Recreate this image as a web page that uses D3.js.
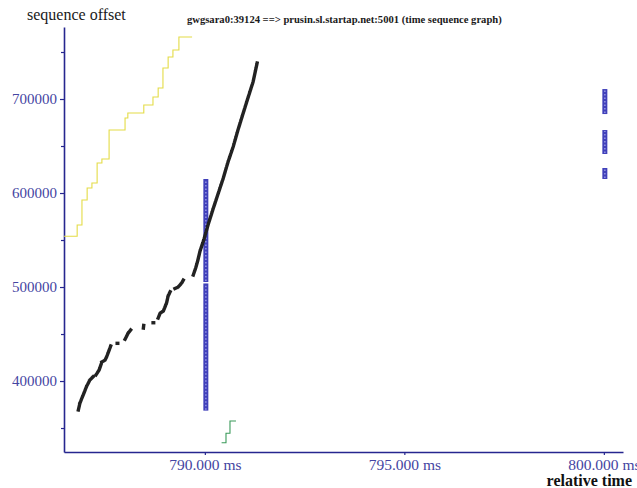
<!DOCTYPE html>
<html>
<head>
<meta charset="utf-8">
<script src="https://cdn.jsdelivr.net/npm/d3@7"></script>
<style>
  html, body { margin: 0; padding: 0; background: #fff; }
  svg { display: block; }
</style>
</head>
<body>
<svg id="chart" width="637" height="488"></svg>
<script>
// Time sequence graph of a single TCP connection.
const title = "gwgsara0:39124 ==> prusin.sl.startap.net:5001 (time sequence graph)";
const yTitle = "sequence offset";
const xTitle = "relative time";

// Axis ticks
const yMajorTicks = [400000, 500000, 600000, 700000];
const yMinorTicks = [350000, 450000, 550000, 650000, 750000];
const xTicks = [790, 795, 800];

// Receive window advertised (time in ms, sequence offset), step line
const windowSteps = [
  [786.47, 554000], [786.80, 566000], [786.92, 592500], [787.05, 605300],
  [787.17, 610600], [787.30, 632000], [787.42, 636200], [787.60, 667000],
  [788.00, 679800], [788.07, 685100], [788.47, 693600], [788.70, 702100],
  [788.83, 711700], [788.95, 733000], [789.08, 744700], [789.20, 752100],
  [789.35, 766000], [789.68, 766000]
];

// Acknowledged sequence offsets, step line
const ackSteps = [
  [790.42, 334400], [790.53, 344400], [790.63, 357400], [790.78, 357400]
];

// Data segments sent; each inner array is a run of closely spaced segments
const dataRuns = [
  [[786.83, 369200], [786.87, 376600], [786.95, 385100], [787.04, 394700], [787.12, 401100], [787.20, 404600]],
  [[787.27, 406400], [787.35, 411700], [787.42, 420200], [787.50, 422300], [787.54, 425900], [787.64, 437200]],
  [[787.81, 440100]],
  [[788.00, 444400], [788.08, 451100], [788.14, 454300]],
  [[788.46, 456400], [788.47, 460100]],
  [[788.71, 462000]],
  [[788.83, 467000], [788.88, 472300], [788.96, 474500], [789.00, 478700], [789.04, 483000], [789.08, 490400], [789.13, 495000]],
  [[789.25, 498400], [789.33, 500000], [789.42, 504300], [789.46, 507400]],
  [[789.71, 512800], [789.77, 520200], [789.82, 527700], [789.88, 538300], [789.98, 551100],
   [790.08, 566000], [790.21, 583500], [790.33, 598900], [790.46, 615600], [790.58, 632900],
   [790.71, 649200], [790.83, 667000], [790.96, 684800], [791.08, 701100], [791.21, 718400],
   [791.31, 738300]]
];

// SACK blocks: [time, from offset, to offset]
const sackBlocks = [
  [790.0, 368500, 503800], [790.0, 505300, 614900],
  [800.0, 614900, 626600], [800.0, 641500, 667000], [800.0, 684000, 710600]
];

const svg = d3.select("#chart");
const serif = "'Liberation Serif', 'DejaVu Serif', serif";

const x = d3.scaleLinear().domain([786.47, 800.48]).range([64, 623]);
const y = d3.scaleLinear().domain([324500, 776600]).range([452, 27]);

const axisColor = "#26268f";
const labelColor = "#4545a2";

// Y axis: major ticks with labels, minor ticks without
const yAxis = svg.append("g").attr("transform", `translate(${x.range()[0]},0)`)
  .call(d3.axisLeft(y).tickValues(yMajorTicks).tickFormat(d3.format("d"))
    .tickSize(4).tickSizeOuter(0).tickPadding(3));
svg.append("g").attr("transform", `translate(${x.range()[0]},0)`)
  .call(d3.axisLeft(y).tickValues(yMinorTicks).tickFormat("").tickSize(3).tickSizeOuter(0))
  .call(g => g.select(".domain").remove());

// X axis
const xAxis = svg.append("g").attr("transform", `translate(0,${y.range()[0]})`)
  .call(d3.axisBottom(x).tickValues(xTicks).tickFormat(d => d3.format(".3f")(d) + " ms")
    .tickSize(3).tickSizeOuter(0));

svg.selectAll(".domain").attr("stroke", axisColor).attr("stroke-width", 1.6);
svg.selectAll(".tick line").attr("stroke", axisColor).attr("stroke-width", 1.2);
yAxis.selectAll("text").attr("fill", labelColor).attr("font-family", serif).attr("font-size", 15);
xAxis.selectAll("text").attr("fill", labelColor).attr("font-family", serif).attr("font-size", 15.5)
  .attr("y", 17.5).attr("dy", 0);

// Window line (yellow)
const stepLine = d3.line().x(d => x(d[0])).y(d => y(d[1])).curve(d3.curveStepAfter);
svg.append("path").datum(windowSteps)
  .attr("d", stepLine).attr("fill", "none").attr("stroke", "#e4dc46").attr("stroke-width", 1.1);

// ACK line (green)
svg.append("path").datum(ackSteps)
  .attr("d", stepLine).attr("fill", "none").attr("stroke", "#3a9a5a").attr("stroke-width", 1.1);

// SACK blocks (blue columns of stacked markers)
const sack = svg.append("g");
sack.selectAll("line.sack").data(sackBlocks).join("line")
  .attr("class", "sack")
  .attr("x1", d => x(d[0]) + 1).attr("x2", d => x(d[0]) + 1)
  .attr("y1", d => y(d[1])).attr("y2", d => y(d[2]))
  .attr("stroke", "#4040ba").attr("stroke-width", 5);
sack.selectAll("line.fill").data(sackBlocks).join("line")
  .attr("class", "fill")
  .attr("x1", d => x(d[0]) + 1).attr("x2", d => x(d[0]) + 1)
  .attr("y1", d => y(d[1]) - 1).attr("y2", d => y(d[2]) + 1)
  .attr("stroke", "#9090e0").attr("stroke-width", 1.6).attr("stroke-dasharray", "1.5,2");

// Data segments (black)
const dataLine = d3.line().x(d => x(d[0])).y(d => y(d[1]));
const segs = svg.append("g");
segs.selectAll("path").data(dataRuns.filter(r => r.length > 1)).join("path")
  .attr("d", dataLine).attr("fill", "none")
  .attr("stroke", "#222").attr("stroke-width", 3.4)
  .attr("stroke-linecap", "square").attr("stroke-linejoin", "round")
  .attr("stroke-dasharray", "2.6,1");
segs.selectAll("rect").data(dataRuns.filter(r => r.length === 1)).join("rect")
  .attr("x", d => x(d[0][0]) - 2).attr("y", d => y(d[0][1]) - 1.7)
  .attr("width", 4).attr("height", 3.4).attr("fill", "#222");

// Titles
svg.append("text").attr("x", 27).attr("y", 20)
  .attr("font-family", serif).attr("font-size", 16).attr("fill", "#1a1a1a")
  .text(yTitle);
svg.append("text").attr("x", 187).attr("y", 23)
  .attr("font-family", serif).attr("font-size", 10.6).attr("font-weight", "bold").attr("fill", "#1a1a1a")
  .text(title);
svg.append("text").attr("x", 632).attr("y", 486).attr("text-anchor", "end")
  .attr("font-family", serif).attr("font-size", 16).attr("font-weight", "bold").attr("fill", "#111")
  .text(xTitle);
</script>
</body>
</html>
